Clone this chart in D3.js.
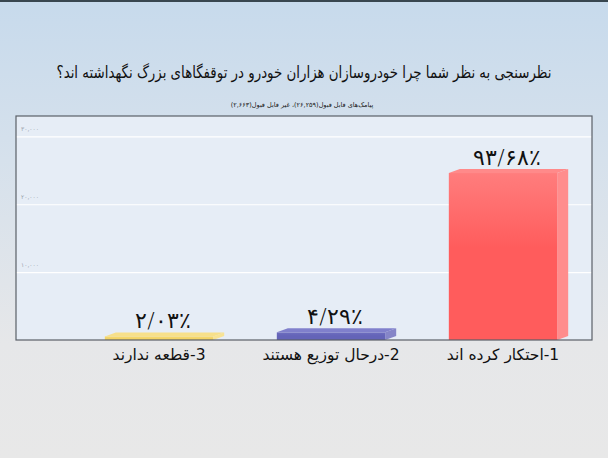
<!DOCTYPE html>
<html>
<head>
<meta charset="utf-8">
<script src="https://cdn.jsdelivr.net/npm/d3@7"></script>
<style>
    body{margin:0;padding:0;overflow:hidden;}
    svg{display:block;font-family:"DejaVu Sans", sans-serif;}
</style>
</head>
<body>
<div id="chart"></div>
<script>

var categories = ["1-احتکار کرده اند", "2-درحال توزیع هستند", "3-قطعه ندارند"];
var counts = [24599, 1127, 533];
var valueLabels = ["۹۳/۶۸٪", "۴/۲۹٪", "۲/۰۳٪"];
var tickValues = [10000, 20000, 30000];
var tickLabels = ["۱۰,۰۰۰", "۲۰,۰۰۰", "۳۰,۰۰۰"];
var barColors = [
    {front:"#ff5c5c", top:"#ff8a8a", side:"#ff8d8d", light:"#ff7d7d"},
    {front:"#6464b8", top:"#8080cc", side:"#8585c8", light:"#6e6ec0"},
    {front:"#f3d466", top:"#f7e08a", side:"#f8e394", light:"#f5da78"}
];
var title = "نظرسنجی به نظر شما چرا خودروسازان هزاران خودرو در توقفگاهای بزرگ نگهداشته اند؟";
var subtitle = "پیامک‌های قابل قبول(۲۶,۲۵۹)، غیر قابل قبول(۲,۶۶۳)";

var width = 608, height = 458;
var plot = {left:16, right:592, top:116, bottom:340};
var depth = {x:11, y:4};

var svg = d3.select("#chart").append("svg")
    .attr("width", width)
    .attr("height", height);

var defs = svg.append("defs");


//**************************************************************************
//** background
//**************************************************************************
var bg = defs.append("linearGradient").attr("id","bg")
    .attr("x1",0).attr("y1",0).attr("x2",0).attr("y2",1);
bg.append("stop").attr("offset","0%").attr("stop-color","#c7daec");
bg.append("stop").attr("offset","35%").attr("stop-color","#d6e1ec");
bg.append("stop").attr("offset","75%").attr("stop-color","#e6e7e9");
bg.append("stop").attr("offset","100%").attr("stop-color","#e8e8e8");

svg.append("rect").attr("width",width).attr("height",height).attr("fill","url(#bg)");
svg.append("rect").attr("width",width).attr("height",2).attr("fill","#38464f");


//**************************************************************************
//** titles
//**************************************************************************
//DejaVu is wider than the original face, so squeeze it horizontally
svg.append("text")
    .attr("transform","translate(" + (width/2) + ",78) scale(0.81,1)")
    .attr("direction","rtl")
    .style("text-anchor","middle")
    .style("font-size","16.5px")
    .attr("fill","#111")
    .text(title);

svg.append("text")
    .attr("x", 302)
    .attr("y", 107)
    .attr("direction","rtl")
    .style("text-anchor","middle")
    .style("font-size","6.5px")
    .attr("fill","#222")
    .text(subtitle);


//**************************************************************************
//** scales
//**************************************************************************
var x = d3.scaleBand()
    .domain(categories)
    .range([589, 73])
    .paddingInner(0.37)
    .paddingOuter(0.185);

var y = d3.scaleLinear()
    .domain([0, 33000])
    .range([plot.bottom, plot.top]);


//**************************************************************************
//** plot area
//**************************************************************************
svg.append("rect")
    .attr("x", plot.left)
    .attr("y", plot.top)
    .attr("width", plot.right-plot.left)
    .attr("height", plot.bottom-plot.top)
    .attr("fill","#e6edf6");

svg.append("g")
    .attr("class","grid")
    .attr("transform","translate(" + plot.left + ",0)")
    .call(d3.axisLeft(y)
        .tickValues(tickValues)
        .tickSize(-(plot.right-plot.left))
        .tickFormat(""))
    .call(function(g){
        g.select(".domain").remove();
        g.selectAll("line").attr("stroke","#ffffff").attr("stroke-width",1.2);
    });

svg.append("g")
    .selectAll("text")
    .data(tickValues)
    .enter()
    .append("text")
    .attr("x", plot.left + 5)
    .attr("y", function(d){ return y(d) - 5; })
    .style("font-size","6px")
    .attr("fill","#9aa3ad")
    .text(function(d,i){ return tickLabels[i]; });


//**************************************************************************
//** bars
//**************************************************************************
barColors.forEach(function(c, i){
    var g = defs.append("linearGradient").attr("id","front"+i)
        .attr("x1",0).attr("y1",0).attr("x2",0).attr("y2",1);
    g.append("stop").attr("offset","0%").attr("stop-color",c.light);
    g.append("stop").attr("offset","45%").attr("stop-color",c.front);
    g.append("stop").attr("offset","100%").attr("stop-color",c.front);
});

var bars = svg.append("g")
    .selectAll("g")
    .data(categories)
    .enter()
    .append("g");

bars.append("path")
    .attr("fill", function(d,i){ return barColors[i].side; })
    .attr("d", function(d,i){
        var x1 = x(d) + x.bandwidth(), y0 = y(counts[i]), b = plot.bottom;
        return "M" + x1 + "," + y0 +
            "L" + (x1+depth.x) + "," + (y0-depth.y) +
            "L" + (x1+depth.x) + "," + (b-depth.y) +
            "L" + x1 + "," + b + "Z";
    });

bars.append("rect")
    .attr("x", function(d){ return x(d); })
    .attr("y", function(d,i){ return y(counts[i]); })
    .attr("width", x.bandwidth())
    .attr("height", function(d,i){ return plot.bottom - y(counts[i]); })
    .attr("fill", function(d,i){ return "url(#front" + i + ")"; });

bars.append("path")
    .attr("fill", function(d,i){ return barColors[i].top; })
    .attr("d", function(d,i){
        var x0 = x(d), x1 = x0 + x.bandwidth(), y0 = y(counts[i]);
        return "M" + x0 + "," + y0 +
            "L" + (x0+depth.x) + "," + (y0-depth.y) +
            "L" + (x1+depth.x) + "," + (y0-depth.y) +
            "L" + x1 + "," + y0 + "Z";
    });

bars.append("text")
    .attr("x", function(d){ return x(d) + x.bandwidth()/2 + 4; })
    .attr("y", function(d,i){ return y(counts[i]) - depth.y - 4; })
    .style("text-anchor","middle")
    .style("font-size","22px")
    .style("font-weight","300")
    .attr("fill","#111")
    .text(function(d,i){ return valueLabels[i]; });


//**************************************************************************
//** frame + category axis
//**************************************************************************
svg.append("rect")
    .attr("x", plot.left)
    .attr("y", plot.top)
    .attr("width", plot.right-plot.left)
    .attr("height", plot.bottom-plot.top)
    .attr("fill","none")
    .attr("stroke","#5a6068")
    .attr("stroke-width",1.2);

var xAxis = svg.append("g")
    .attr("transform","translate(0," + plot.bottom + ")")
    .call(d3.axisBottom(x).tickSize(0).tickPadding(9));

xAxis.select(".domain").remove();
xAxis.selectAll("text")
    .attr("direction","rtl")
    .attr("dy","0.71em")
    .style("font-family","DejaVu Sans, sans-serif")
    .style("font-size","15.5px")
    .attr("fill","#111");

</script>
</body>
</html>
